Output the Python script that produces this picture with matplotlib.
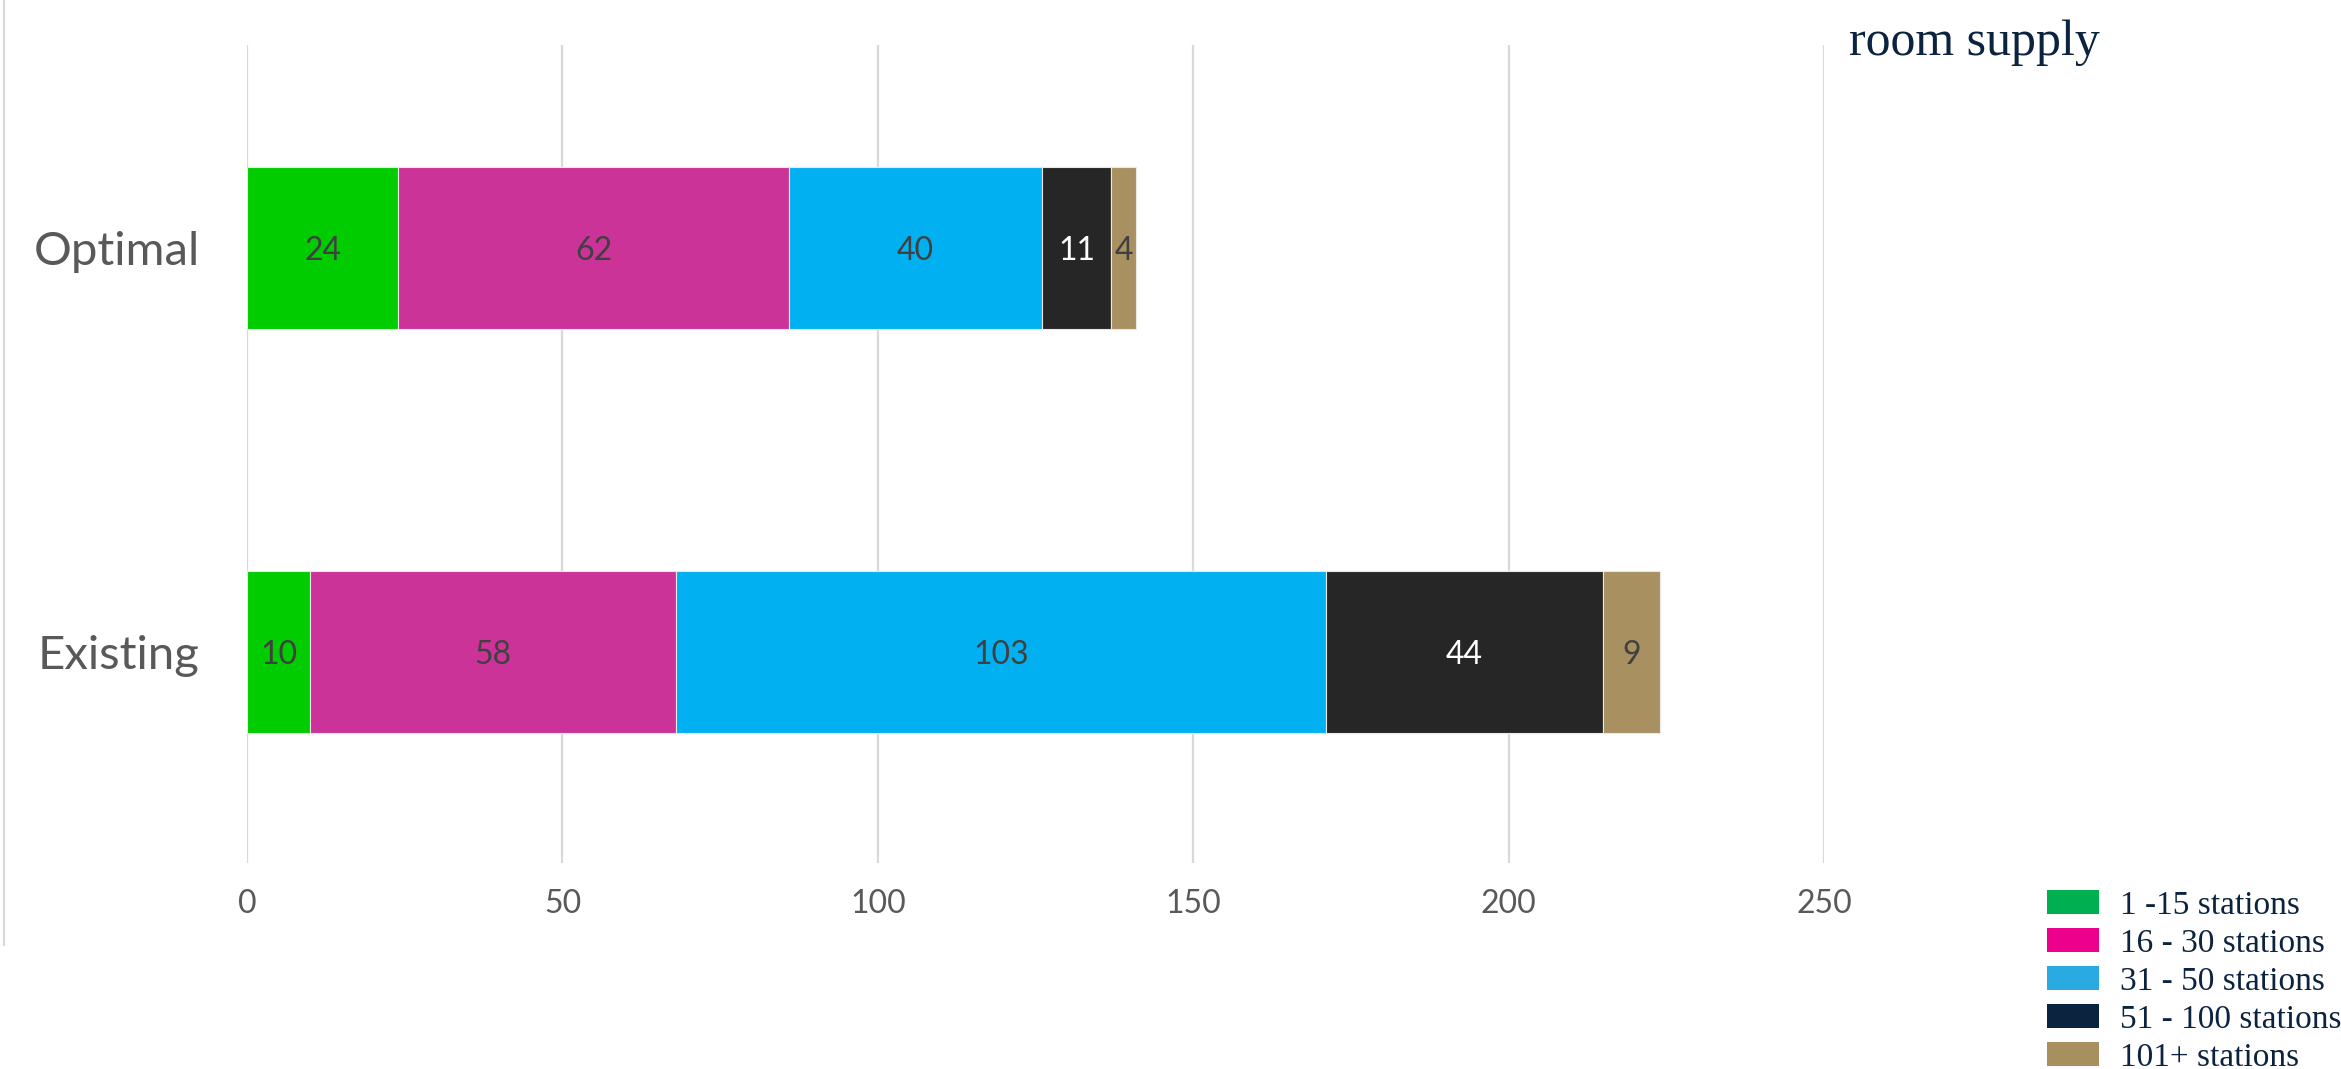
import matplotlib
matplotlib.use("Agg")
import matplotlib.pyplot as plt
from matplotlib.patches import Rectangle
from matplotlib.lines import Line2D

categories = ["Existing", "Optimal"]
series_names = ["1 -15 stations", "16 - 30 stations", "31 - 50 stations",
                "51 - 100 stations", "101+ stations"]
values = {
    "1 -15 stations": [10, 24],
    "16 - 30 stations": [58, 62],
    "31 - 50 stations": [103, 40],
    "51 - 100 stations": [44, 11],
    "101+ stations": [9, 4],
}
bar_colors = ["#00CC00", "#CC3399", "#00B0F0", "#262626", "#A89060"]
legend_colors = ["#00B050", "#EC008C", "#29ABE2", "#0C2340", "#A8905E"]
label_colors = ["#404040", "#404040", "#404040", "#FFFFFF", "#404040"]
xticks = [0, 50, 100, 150, 200, 250]

W, H = 2341, 1069
fig = plt.figure(figsize=(W / 100, H / 100), dpi=100)
ax = fig.add_axes([247 / W, 1 - 863 / H, 1577 / W, (863 - 45) / H])

ypos = list(range(len(categories)))
left = [0] * len(categories)
for name, col, lcol in zip(series_names, bar_colors, label_colors):
    vals = values[name]
    bars = ax.barh(ypos, vals, left=left, height=0.4, color=col,
                   edgecolor="#E8E8E8", linewidth=0.8, zorder=3)
    texts = ax.bar_label(bars, labels=[str(v) for v in vals], label_type="center",
                         color=lcol, fontsize=23, family="Lato", zorder=4)
    for t in texts:
        t.set_va("center_baseline")
    left = [l + v for l, v in zip(left, vals)]

ax.set_xlim(0, 250)
ax.set_ylim(-0.522, 1.502)
ax.set_xticks(xticks)
ax.set_xticklabels([str(t) for t in xticks])
ax.set_yticks(ypos)
ax.set_yticklabels(categories)
ax.grid(axis="x", color="#D9D9D9", linewidth=1.6, zorder=0)
ax.set_axisbelow(True)
for s in ax.spines.values():
    s.set_visible(False)
ax.tick_params(axis="x", length=0, pad=19, labelsize=23, labelcolor="#595959")
ax.tick_params(axis="y", length=0, pad=34, labelsize=34, labelcolor="#595959")
for lab in ax.get_xticklabels() + ax.get_yticklabels():
    lab.set_family("Lato")

# thin frame line at left edge
fig.add_artist(Line2D([4 / W, 4 / W], [1, 1 - 945 / H], color="#D9D9D9",
                      linewidth=1.5, transform=fig.transFigure))

# title fragment (top right)
fig.text(1849 / W, 1 - 55 / H, "room supply", family="Liberation Serif",
         fontsize=36, color="#0C2340", va="baseline", ha="left")

# legend
row_centers = [902, 940, 978, 1016, 1054]
for name, col, yc in zip(series_names, legend_colors, row_centers):
    fig.add_artist(Rectangle((2047 / W, 1 - (yc + 12) / H), 52 / W, 24 / H,
                             facecolor=col, edgecolor="none",
                             transform=fig.transFigure))
    fig.text(2120 / W, 1 - yc / H, name, family="Liberation Serif",
             fontsize=24, color="#0C2340", va="center_baseline", ha="left")

fig.savefig("out.png", dpi=100, facecolor="white")
